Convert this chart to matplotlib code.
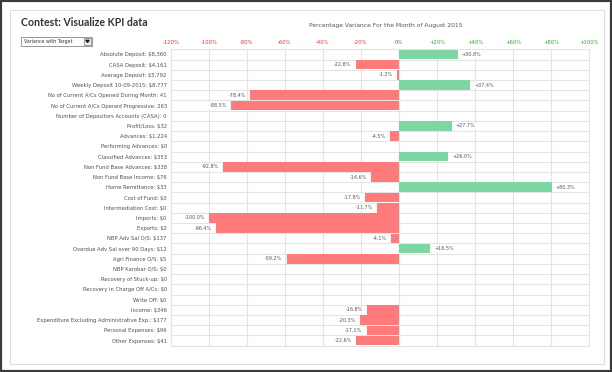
import numpy as np
import matplotlib.pyplot as plt
from matplotlib.patches import Rectangle, Polygon

categories = [
    "Absolute Deposit: $8,360", "CASA Deposit: $4,161", "Average Deposit: $5,792",
    "Weekly Deposit 10-09-2015: $8,777", "No of Current A/Cs Opened During Month: 41",
    "No of Current A/Cs Opened Progressive: 263", "Number of Depositors Accounts (CASA): 0",
    "Profit/Loss: $32", "Advances: $1,224", "Performing Advances: $0",
    "Classified Advances: $353", "Non Fund Base Advances: $338", "Non Fund Base Income: $76",
    "Home Remittance: $33", "Cost of Fund: $0", "Intermediation Cost: $0", "Imports: $0",
    "Exports: $2", "NBP Adv Sal O/S: $137", "Overdue Adv Sal over 90 Days: $12",
    "Agri Finance O/S: $5", "NBP Karobar O/S: $0", "Recovery of Stuck-up: $0",
    "Recovery in Charge Off A/Cs: $0", "Write Off: $0", "Income: $346",
    "Expenditure Excluding Administrative Exp.: $177", "Personal Expenses: $96",
    "Other Expenses: $41",
]
# variance in percent, None where no bar is shown
variance = [30.8, -22.8, -1.2, 37.4, -78.4, -88.5, None, 27.7, -4.5, None,
            26.0, -92.8, -14.6, 80.3, -17.8, -11.7, -100.0, -96.4, -4.1, 16.5,
            -59.2, None, None, None, None, -16.8, -20.3, -17.1, -22.6]
x_ticks = [-120, -100, -80, -60, -40, -20, 0, 20, 40, 60, 80, 100]

W, H = 612, 372
RED = "#ff7b7b"
GREEN = "#7dd6a3"
GRID = "#e4e4e4"

def fx(px):
    return px / W

def fy(py):
    return 1 - py / H

fig = plt.figure(figsize=(W / 100, H / 100), dpi=100)
fig.patch.set_facecolor("white")

# outer frame + inner panel
fig.patches.append(Rectangle((0, 0), 1, 1, transform=fig.transFigure, fill=False,
                             edgecolor="#3a3a3a", linewidth=3.0))
fig.patches.append(Rectangle((fx(10), fy(364)), fx(594), 354 / H, transform=fig.transFigure,
                             fill=False, edgecolor="#dddddd", linewidth=0.8))

ax = fig.add_axes([fx(171), fy(345.7), fx(589 - 171), (345.7 - 49.3) / H])
ypos = np.arange(len(categories))
for y, v in zip(ypos, variance):
    if v is None:
        continue
    ax.barh(y, v, height=0.94, color=GREEN if v > 0 else RED, zorder=2)
    txt = f"+{v:.1f}%" if v > 0 else f"{v:.1f}%"
    off = 2.2 if v > 0 else -2.2
    ax.text(v + off, y, txt, ha="left" if v > 0 else "right", va="center",
            fontsize=3.5, color="#555555", zorder=4,
            bbox=dict(facecolor="white", edgecolor="none", pad=0.6))

ax.set_xlim(-120, 100)
ax.set_ylim(len(categories) - 0.5, -0.5)
ax.set_xticks(x_ticks)
ax.set_xticklabels(["0%" if t == 0 else (f"+{t}%" if t > 0 else f"{t}%") for t in x_ticks])
ax.xaxis.tick_top()
ax.tick_params(axis="x", length=0, pad=3, labelsize=3.8)
for tick, t in zip(ax.xaxis.get_major_ticks(), x_ticks):
    c = "#ee3333" if t < 0 else ("#666666" if t == 0 else "#33aa33")
    tick.label1.set_color(c)
    tick.label2.set_color(c)
ax.set_yticks(ypos)
ax.set_yticklabels(categories)
ax.tick_params(axis="y", length=0, pad=3, labelsize=3.8, labelcolor="#505050")
ax.set_yticks(np.arange(-0.5, len(categories), 1), minor=True)
ax.tick_params(axis="y", which="minor", length=0)
ax.grid(True, axis="x", color=GRID, linewidth=0.8, zorder=0)
ax.grid(True, axis="y", which="minor", color=GRID, linewidth=0.8, zorder=0)
ax.grid(False, axis="y", which="major")
ax.set_axisbelow(True)
for s in ax.spines.values():
    s.set_color(GRID)
    s.set_linewidth(0.8)

# title and subtitle
fig.text(fx(21), fy(23), "Contest: Visualize KPI data", fontsize=7.6, fontweight="bold",
         color="#333333", va="center", ha="left", family="Lato")
fig.text(fx(386), fy(26), "Percentage Variance For the Month of August 2015", fontsize=4.3,
         color="#555555", va="center", ha="center")

# dropdown
fig.patches.append(Rectangle((fx(21), fy(46)), fx(71), 9 / H, transform=fig.transFigure,
                             facecolor="white", edgecolor="#888888", linewidth=0.6))
fig.patches.append(Rectangle((fx(84), fy(45)), fx(7), 7 / H, transform=fig.transFigure,
                             facecolor="#eeeeee", edgecolor="#777777", linewidth=0.5))
fig.patches.append(Polygon([(fx(85.8), fy(40.3)), (fx(89.2), fy(40.3)), (fx(87.5), fy(42.5))],
                           closed=True, transform=fig.transFigure, color="#222222"))
fig.text(fx(24), fy(41.5), "Variance with Target", fontsize=3.4, color="#333333",
         va="center", ha="left")

fig.savefig("out.png", dpi=100)
